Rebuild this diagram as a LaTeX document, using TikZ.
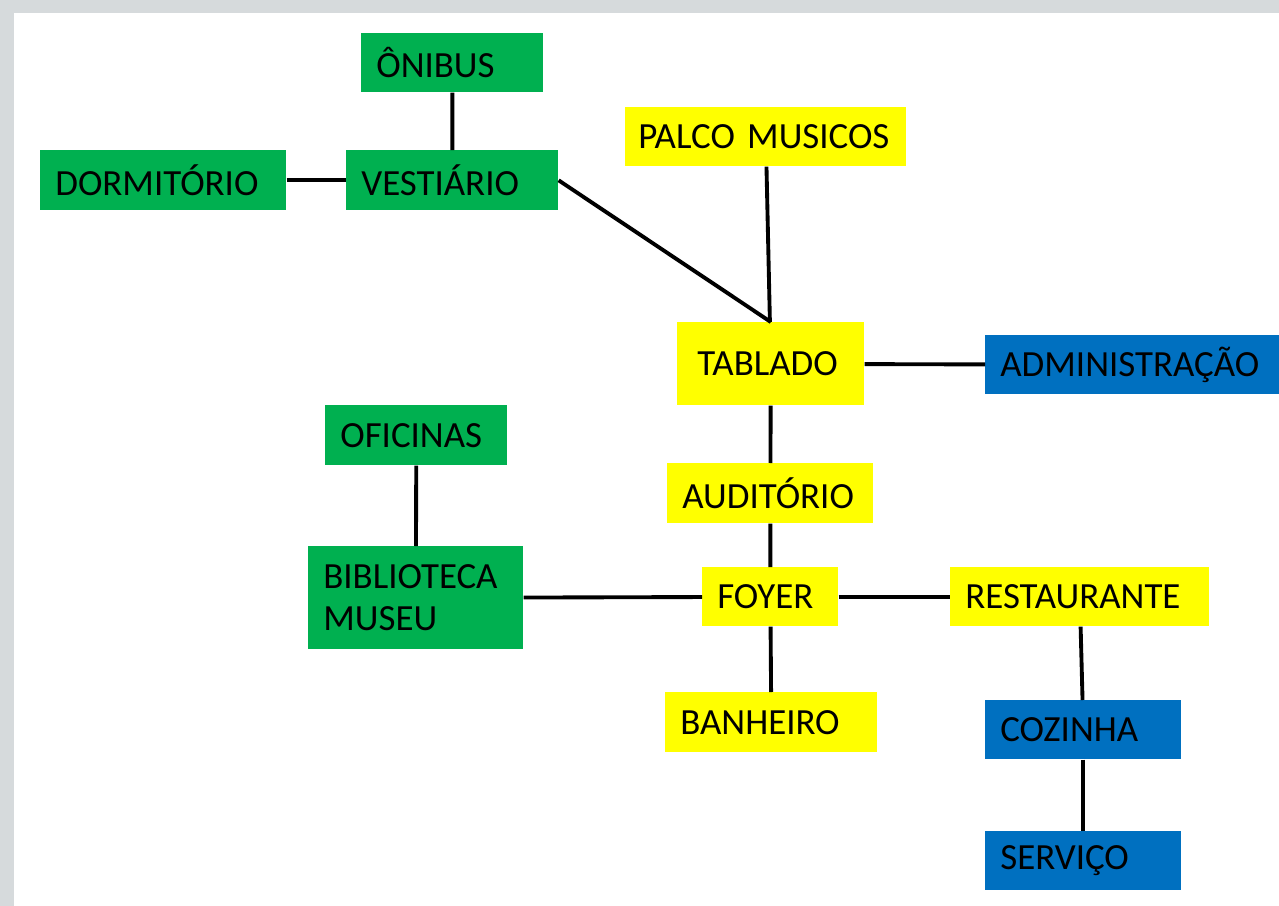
\documentclass[tikz,border=0pt]{standalone}
\usepackage{fontspec}
\setmainfont{Carlito}
\usepackage{xcolor}

\begin{document}
\begin{tikzpicture}[x=0.02cm, y=-0.02cm,
        sala/.style={rectangle, anchor=north west, inner xsep=0.3cm, inner ysep=0pt,
            align=left, font=\fontsize{21}{24}\selectfont},
        liga/.style={line width=2.2pt}]
        % Define colors
        \definecolor{verde}{RGB}{0,176,80}
        \definecolor{amarelo}{RGB}{255,255,0}
        \definecolor{azul}{RGB}{0,112,192}
        \definecolor{fundo}{RGB}{214,218,220}

        % Background
        \useasboundingbox (0,0) rectangle (1279,906);
        \fill[fundo] (0,0) rectangle (1279,906);
        \fill[white] (14,13) rectangle (1279,906);

        % Green rooms
        \node[sala, fill=verde, text width=3.04cm, minimum height=1.18cm] (onibus) at (361,33) {ÔNIBUS};
        \node[sala, fill=verde, text width=4.32cm, minimum height=1.2cm] (dormitorio) at (40,150) {DORMITÓRIO};
        \node[sala, fill=verde, text width=3.64cm, minimum height=1.2cm] (vestiario) at (346,150) {VESTIÁRIO};
        \node[sala, fill=verde, text width=3.04cm, minimum height=1.2cm] (oficinas) at (325,405) {OFICINAS};
        \node[sala, fill=verde, text width=3.7cm, minimum height=2.06cm] (biblioteca) at (308,546) {BIBLIOTECA\\MUSEU};

        % Yellow rooms
        \node[sala, fill=amarelo, inner xsep=0.26cm, text width=5.1cm, minimum height=1.18cm] (palco) at (625,107) {\mbox{PALCO MUSICOS}};
        \node[sala, fill=amarelo, minimum height=1.66cm, inner xsep=0.4cm, text width=2.94cm] (tablado) at (677,322) {TABLADO};
        \node[sala, fill=amarelo, text width=3.52cm, minimum height=1.2cm] (auditorio) at (667,463) {AUDITÓRIO};
        \node[sala, fill=amarelo, text width=2.12cm, minimum height=1.18cm] (foyer) at (702,567) {FOYER};
        \node[sala, fill=amarelo, text width=4.58cm, minimum height=1.18cm] (restaurante) at (950,567) {RESTAURANTE};
        \node[sala, fill=amarelo, text width=3.64cm, minimum height=1.2cm] (banheiro) at (665,692) {BANHEIRO};

        % Blue rooms
        \node[sala, fill=azul, text width=5.6cm, minimum height=1.18cm] (administracao) at (985,335) {ADMINISTRAÇÃO};
        \node[sala, fill=azul, text width=3.32cm, minimum height=1.18cm] (cozinha) at (985,700) {COZINHA};
        \node[sala, fill=azul, text width=3.32cm, minimum height=1.18cm] (servico) at (985,831) {SERVIÇO};

        % Connections
        \foreach \a/\b in {onibus/vestiario, dormitorio/vestiario, palco/tablado,
                tablado/administracao, tablado/auditorio, auditorio/foyer,
                oficinas/biblioteca, biblioteca/foyer, foyer/restaurante,
                foyer/banheiro, restaurante/cozinha, cozinha/servico}
            \draw[liga] (\a) -- (\b);
        \draw[liga] (vestiario.east) -- (tablado.north);

    \end{tikzpicture}
\end{document}
